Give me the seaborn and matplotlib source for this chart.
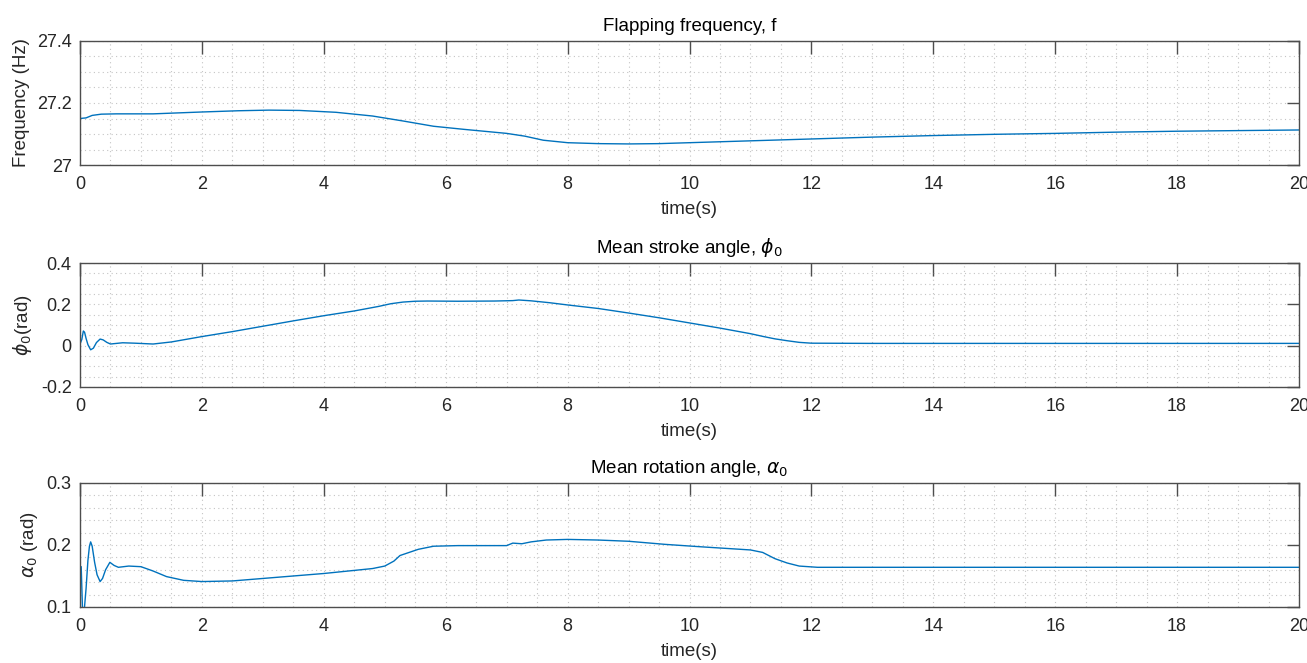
import numpy as np
import pandas as pd
import seaborn as sns
import matplotlib
matplotlib.use("Agg")
import matplotlib.pyplot as plt
from matplotlib.ticker import MultipleLocator

# flapping frequency f (Hz)
t_freq = [0, 0.1, 0.2, 0.35, 0.6, 1.2, 2.0, 2.6, 3.1, 3.6, 4.2, 4.8, 5.3, 5.8, 6.3, 7.0, 7.3, 7.6, 8.0, 8.5, 9.0, 9.5, 10, 11, 12, 13, 14, 15, 16, 17, 18, 19, 20]
freq = [27.150, 27.152, 27.160, 27.164, 27.165, 27.165, 27.171, 27.175, 27.177, 27.176, 27.170, 27.158, 27.142, 27.125, 27.115, 27.102, 27.093, 27.080, 27.072, 27.069, 27.068, 27.069, 27.072, 27.078, 27.084, 27.090, 27.095, 27.099, 27.102, 27.106, 27.109, 27.111, 27.113]

# mean stroke angle phi_0 (rad)
t_phi = [0, 0.03, 0.055, 0.075, 0.1, 0.13, 0.175, 0.22, 0.27, 0.33, 0.38, 0.44, 0.5, 0.6, 0.7, 0.9, 1.2, 1.5, 2.0, 2.5, 3.0, 3.5, 4.0, 4.5, 4.9, 5.1, 5.3, 5.5, 5.7, 6.2, 6.8, 7.1, 7.2, 7.4, 7.7, 8.0, 8.5, 9.0, 9.5, 10.0, 10.5, 11.0, 11.2, 11.4, 11.6, 11.8, 12.0, 13, 14, 16, 18, 20]
phi = [0.008, 0.03, 0.071, 0.065, 0.035, 0.005, -0.02, -0.012, 0.015, 0.032, 0.028, 0.016, 0.008, 0.011, 0.014, 0.012, 0.008, 0.018, 0.044, 0.068, 0.094, 0.12, 0.145, 0.168, 0.19, 0.203, 0.211, 0.215, 0.216, 0.215, 0.216, 0.218, 0.221, 0.217, 0.208, 0.197, 0.18, 0.158, 0.135, 0.11, 0.085, 0.058, 0.045, 0.033, 0.024, 0.016, 0.012, 0.011, 0.011, 0.011, 0.011, 0.011]

# mean rotation angle alpha_0 (rad)
t_alpha = [0, 0.02, 0.04, 0.07, 0.1, 0.13, 0.155, 0.175, 0.2, 0.24, 0.28, 0.33, 0.37, 0.42, 0.49, 0.56, 0.63, 0.8, 1.0, 1.2, 1.42, 1.7, 2.0, 2.5, 3.0, 3.5, 4.0, 4.5, 4.8, 5.0, 5.15, 5.25, 5.4, 5.55, 5.8, 6.2, 6.6, 7.0, 7.1, 7.25, 7.4, 7.65, 8.0, 8.5, 9.0, 9.6, 10.2, 11.0, 11.2, 11.4, 11.6, 11.8, 12.1, 12.5, 13, 14, 16, 18, 20]
alpha = [0.165, 0.165, 0.10, 0.095, 0.13, 0.175, 0.198, 0.205, 0.198, 0.172, 0.152, 0.141, 0.146, 0.16, 0.172, 0.167, 0.164, 0.166, 0.165, 0.158, 0.149, 0.143, 0.141, 0.142, 0.146, 0.150, 0.154, 0.159, 0.162, 0.166, 0.174, 0.183, 0.188, 0.193, 0.198, 0.199, 0.199, 0.199, 0.203, 0.202, 0.205, 0.208, 0.209, 0.208, 0.206, 0.201, 0.197, 0.192, 0.188, 0.178, 0.171, 0.166, 0.164, 0.164, 0.164, 0.164, 0.164, 0.164, 0.164]

titles = ["Flapping frequency, f", r"Mean stroke angle, $\phi_0$", r"Mean rotation angle, $\alpha_0$"]
ylabels = ["Frequency (Hz)", r"$\phi_0$(rad)", r"$\alpha_0$ (rad)"]

sns.set_style("white")
plt.rcParams["font.family"] = ["Liberation Sans", "DejaVu Sans"]
plt.rcParams["mathtext.fontset"] = "dejavusans"
plt.rcParams["text.color"] = "#262626"

fig = plt.figure(figsize=(13.07, 6.63), dpi=100)
boxes = [[0.0612, 0.7511, 0.9327, 0.1871],
         [0.0612, 0.4163, 0.9327, 0.1870],
         [0.0612, 0.0845, 0.9327, 0.1870]]
series = [(t_freq, freq), (t_phi, phi), (t_alpha, alpha)]
ylims = [(27, 27.4), (-0.2, 0.4), (0.1, 0.3)]
ymaj = [0.2, 0.2, 0.1]
ymin = [0.05, 0.05, 0.02]

for i in range(3):
    ax = fig.add_axes(boxes[i])
    df = pd.DataFrame({"t": series[i][0], "v": series[i][1]})
    sns.lineplot(data=df, x="t", y="v", ax=ax, color="#0072BD", linewidth=1.0)
    ax.set_xlim(0, 20)
    ax.set_ylim(*ylims[i])
    ax.xaxis.set_major_locator(MultipleLocator(2))
    ax.xaxis.set_minor_locator(MultipleLocator(0.5))
    ax.yaxis.set_major_locator(MultipleLocator(ymaj[i]))
    ax.yaxis.set_minor_locator(MultipleLocator(ymin[i]))
    ax.set_yticks(ax.get_yticks())
    ax.set_yticklabels([f"{v:g}" for v in ax.get_yticks()])
    ax.set_ylim(*ylims[i])
    ax.grid(True, which="both", linestyle=(0, (1, 3)), color="#c4c4c4", linewidth=0.8)
    ax.tick_params(which="major", direction="in", length=9, width=1, color="#4d4d4d",
                   top=True, right=True, labelsize=13, labelcolor="#262626")
    ax.tick_params(axis="x", which="major", pad=8)
    ax.tick_params(axis="y", which="major", pad=6)
    ax.tick_params(which="minor", length=0)
    for s in ax.spines.values():
        s.set_color("#4d4d4d")
        s.set_linewidth(1.0)
    ax.set_title(titles[i], fontsize=13.5, color="#000000", pad=7)
    ax.set_xlabel("time(s)", fontsize=13.5, labelpad=6)
    ax.set_ylabel(ylabels[i], fontsize=13.5, labelpad=5)

fig.savefig("out.png", dpi=100)
